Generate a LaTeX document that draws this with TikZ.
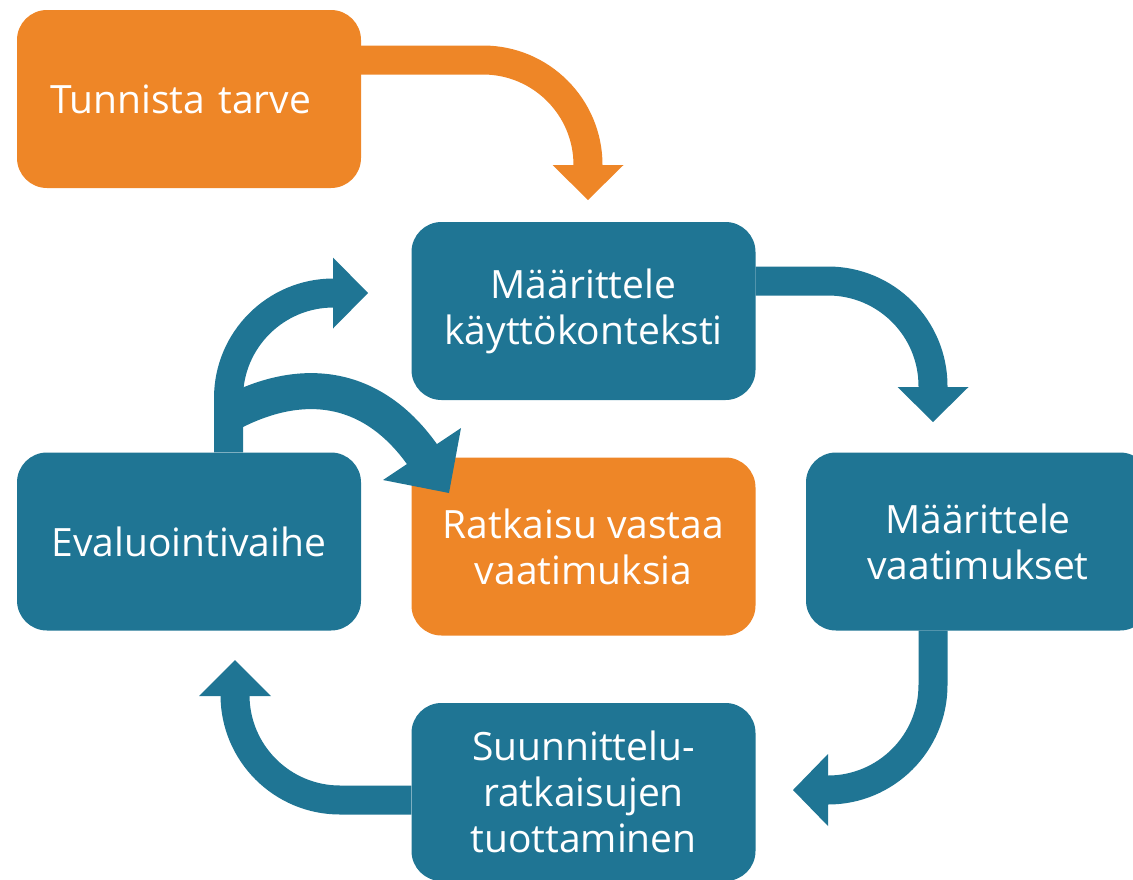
\documentclass[tikz,border=0pt]{standalone}
\usepackage{fontspec}
\setmainfont{Open Sans}
\definecolor{cycOrange}{HTML}{EE8627}
\definecolor{cycBlue}{HTML}{1F7594}
\begin{document}
\begin{tikzpicture}[x=1pt,y=-1pt,
  box/.style={rounded corners=30pt, minimum width=344pt, minimum height=178pt,
    inner sep=0pt, align=center, text=white,
    font=\fontsize{39}{46}\selectfont},
  obox/.style={box, fill=cycOrange},
  bbox/.style={box, fill=cycBlue},
  band/.style={line width=29pt, rounded corners=105pt},
  bandcurve/.style={line width=36pt}]
\useasboundingbox (0,0) rectangle (1133,879);
\clip (0,0) rectangle (1133,879);

% process boxes
\node[obox, align=left, text width=278pt] (tun) at (189,99) {Tunnista tarve};
\node[bbox] (ctx) at (583.5,311) {Määrittele\\käyttökonteksti};
\node[bbox] (eva) at (189,541.5) {Evaluointivaihe};
\node[obox] (rat) at (583.5,546.5) {Ratkaisu vastaa\\vaatimuksia};
\node[bbox] (req) at (978,541.5) {Määrittele\\vaatimukset};
\node[bbox] (des) at (583.5,792) {Suunnittelu-\\ratkaisujen\\tuottaminen};

% arrow tips
\coordinate (t1) at (588,200);
\coordinate (t2) at (933,422);
\coordinate (t3) at (793,790);
\coordinate (t4) at (235,660);
\coordinate (t5) at (368,293);
\coordinate (t6) at (449,493);

% Tunnista tarve -> Määrittele käyttökonteksti
\draw[band, cycOrange] (tun.east |- 0,60) -- (t1 |- 0,60) -- ([yshift=34pt]t1);
\fill[cycOrange] (t1) -- ++(-35.5,-35) -- ++(71,0) -- cycle;

% Määrittele käyttökonteksti -> Määrittele vaatimukset
\draw[band, cycBlue] (ctx.east |- 0,281) -- (t2 |- 0,281) -- ([yshift=34pt]t2);
\fill[cycBlue] (t2) -- ++(-35.5,-35) -- ++(71,0) -- cycle;

% Määrittele vaatimukset -> Suunnittelu
\draw[band, cycBlue] (req.south -| t2) -- (t2 |- t3) -- ([xshift=34pt]t3);
\fill[cycBlue] (t3) -- ++(35,-36) -- ++(0,72) -- cycle;

% Suunnittelu -> Evaluointivaihe
\draw[band, cycBlue] (des.west |- 0,800) -- (t4 |- 0,800) -- ([yshift=-35pt]t4);
\fill[cycBlue] (t4) -- ++(-36,36) -- ++(72,0) -- cycle;

% Evaluointivaihe -> Määrittele käyttökonteksti
\draw[band, cycBlue] (eva.north -| 228.5,0) -- (228.5,293) -- ([xshift=-34pt]t5);
\fill[cycBlue] (t5) -- ++(-35,-35.5) -- ++(0,71) -- cycle;

% Evaluointivaihe -> Ratkaisu vastaa vaatimuksia
\draw[bandcurve, cycBlue] (229,414) .. controls (300,376) and (372,382) .. (424,457);
\fill[cycBlue] (t6) -- (383,480) -- (461,428) -- cycle;
\end{tikzpicture}
\end{document}
